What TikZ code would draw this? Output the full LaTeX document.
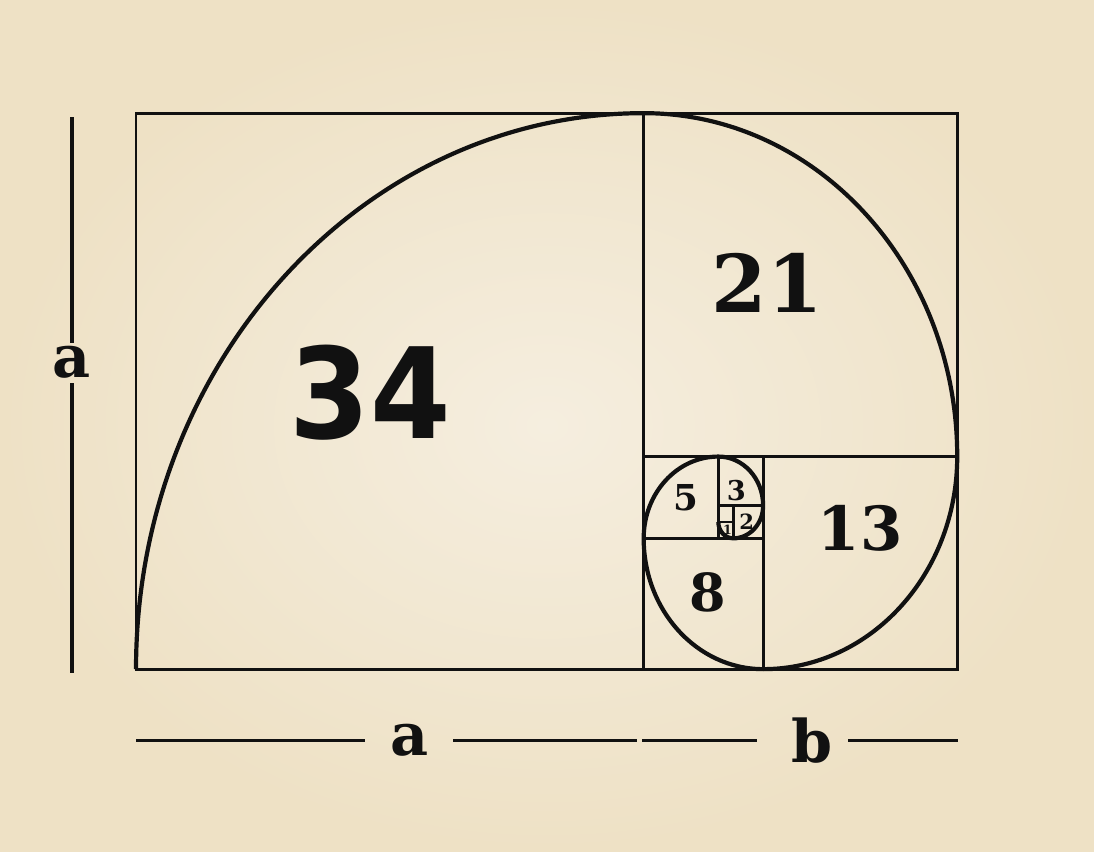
\documentclass[tikz,border=0pt]{standalone}
\usepackage{fontspec}
\setmainfont{DejaVu Serif}
\newfontfamily\numsans{DejaVu Sans}
\definecolor{paperin}{HTML}{F5EEDF}
\definecolor{paperout}{HTML}{EEE1C5}
\definecolor{ink}{HTML}{111111}
\tikzset{
    sq/.style={draw=ink, line width=1.4pt},
    spiral/.style={draw=ink, line width=2pt},
    num/.style={text=ink, font=\bfseries, inner sep=0pt},
    dimline/.style={draw=ink, line width=1.5pt},
}
\begin{document}
\begin{tikzpicture}[xscale=0.25, yscale=0.2738]
    \shade[inner color=paperin, outer color=paperout] (-9.11,-11.13) rectangle (64.16,40.92);
    \useasboundingbox (-9.11,-11.13) rectangle (64.16,40.92);
    % squares
    \foreach \x/\y/\s in {0/0/34, 34/13/21, 42/0/13, 34/0/8, 34/8/5, 39/10/3, 40/8/2, 39/9/1, 39/8/1} {
            \draw[sq] (\x,\y) rectangle ++(\s,\s);
        }
    % spiral
    \draw[spiral] (0,0) arc[start angle=180, end angle=90, radius=34]
        arc[start angle=90, end angle=0, radius=21]
        arc[start angle=0, end angle=-90, radius=13]
        arc[start angle=270, end angle=180, radius=8]
        arc[start angle=180, end angle=90, radius=5]
        arc[start angle=90, end angle=0, radius=3]
        arc[start angle=0, end angle=-90, radius=2]
        arc[start angle=270, end angle=180, radius=1];
    % numbers
    \node[num, font=\numsans\bfseries\fontsize{60}{60}\selectfont, xscale=0.92] (n34) at (15.67,16.88) {34};
    \node[num, font=\bfseries\fontsize{38}{38}\selectfont] (n21) at (42.26,23.6) {21};
    \node[num, font=\bfseries\fontsize{29}{29}\selectfont] (n13) at (48.5,8.6) {13};
    \node[num, font=\bfseries\fontsize{25}{25}\selectfont] (n8) at (38.3,4.7) {8};
    \node[num, font=\bfseries\fontsize{17}{17}\selectfont] (n5) at (36.84,10.46) {5};
    \node[num, font=\bfseries\fontsize{13}{13}\selectfont] (n3) at (40.2,10.95) {3};
    \node[num, font=\bfseries\fontsize{10}{10}\selectfont] (n2) at (40.9,9) {2};
    \node[num, font=\bfseries\fontsize{6}{6}\selectfont] (n1) at (39.62,8.5) {1};
    % side labels
    \node[num, font=\bfseries\fontsize{28}{28}\selectfont] (lefta) at (-4.29,18.78) {a};
    \node[num, font=\bfseries\fontsize{28}{28}\selectfont] (basea) at (18.35,-4.34) {a};
    \node[num, font=\bfseries\fontsize{28}{28}\selectfont] (baseb) at (45.28,-4.34) {b};
    \coordinate (lt) at (-4.29,33.76);
    \coordinate (lm1) at (-4.29,19.94);
    \coordinate (lm2) at (-4.29,17.49);
    \coordinate (lb) at (-4.29,-0.24);
    \coordinate (b0) at (0,-4.34);
    \coordinate (b1) at (15.34,-4.34);
    \coordinate (b2) at (21.23,-4.34);
    \coordinate (b3) at (33.56,-4.34);
    \coordinate (b4) at (33.9,-4.34);
    \coordinate (b5) at (41.6,-4.34);
    \coordinate (b6) at (47.69,-4.34);
    \coordinate (b7) at (55.06,-4.34);
    \draw[dimline] (lt) -- (lm1);
    \draw[dimline] (lm2) -- (lb);
    \draw[dimline] (b0) -- (b1);
    \draw[dimline] (b2) -- (b3);
    \draw[dimline] (b4) -- (b5);
    \draw[dimline] (b6) -- (b7);
\end{tikzpicture}
\end{document}
